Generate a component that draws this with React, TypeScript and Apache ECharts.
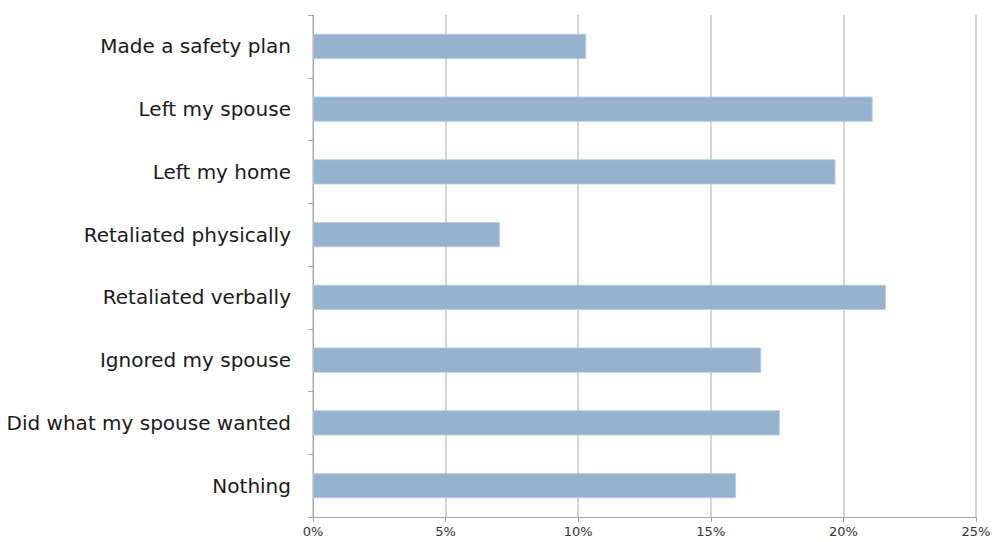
import React, { useEffect, useRef } from "react";
import * as echarts from "echarts";

const categories = [
  "Made a safety plan",
  "Left my spouse",
  "Left my home",
  "Retaliated physically",
  "Retaliated verbally",
  "Ignored my spouse",
  "Did what my spouse wanted",
  "Nothing",
];
const values = [10.3, 21.1, 19.7, 7.05, 21.6, 16.9, 17.6, 15.95];

export default function App() {
  const ref = useRef<HTMLDivElement>(null);
  useEffect(() => {
    if (!ref.current) return;
    const chart = echarts.init(ref.current, undefined, { renderer: "svg" });
    chart.setOption({
      animation: false,
      backgroundColor: "#ffffff",
      grid: { left: 313, right: 18, top: 15, bottom: 25, containLabel: false },
      xAxis: {
        type: "value",
        min: 0,
        max: 25,
        interval: 5,
        axisLabel: {
          formatter: "{value}%",
          fontFamily: "'DejaVu Sans', sans-serif",
          fontSize: 13,
          color: "#333",
          margin: 8,
        },
        axisLine: { show: true, lineStyle: { color: "#a6a6a6", width: 1 } },
        axisTick: { show: true, length: 5, lineStyle: { color: "#a6a6a6" } },
        splitLine: { show: true, lineStyle: { color: "#c8c8c8", width: 1.5 } },
      },
      yAxis: {
        type: "category",
        data: categories,
        inverse: true,
        axisLabel: {
          fontFamily: "'DejaVu Sans', sans-serif",
          fontSize: 20,
          color: "#1a1a1a",
          margin: 22,
        },
        axisLine: { show: true, lineStyle: { color: "#a6a6a6", width: 1 } },
        axisTick: { show: true, length: 5, lineStyle: { color: "#a6a6a6" } },
        splitLine: { show: false },
      },
      series: [
        {
          type: "bar",
          data: values,
          barCategoryGap: "60%",
          itemStyle: { color: "#95b3cf", borderColor: "#b5cbe0", borderWidth: 0.8 },
        },
      ],
    });
    return () => chart.dispose();
  }, []);
  return (
    <div
      ref={ref}
      style={{ position: "fixed", left: 0, top: 0, width: 994, height: 542 }}
    />
  );
}
